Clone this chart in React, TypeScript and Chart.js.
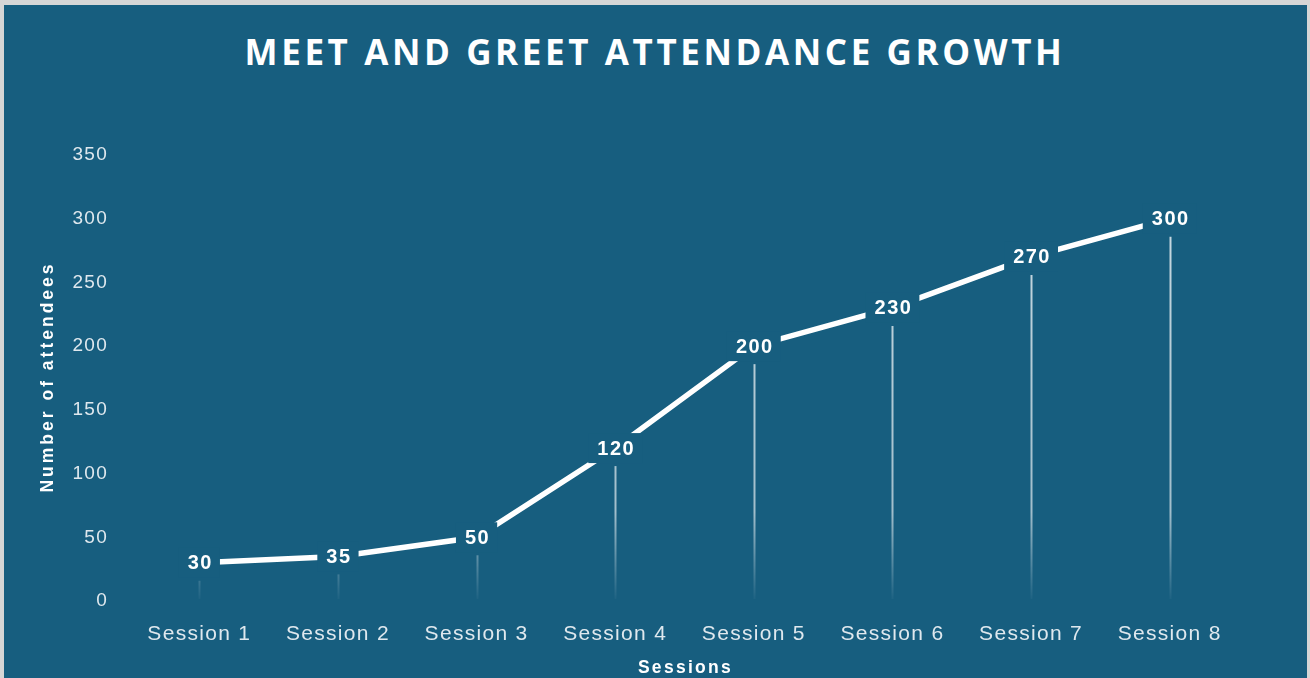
import React, { useEffect, useRef } from 'react';
import { Chart, registerables } from 'chart.js';

Chart.register(...registerables);

const TITLE = 'MEET AND GREET ATTENDANCE GROWTH';
const categories = ['Session 1', 'Session 2', 'Session 3', 'Session 4', 'Session 5', 'Session 6', 'Session 7', 'Session 8'];
const attendees = [30, 35, 50, 120, 200, 230, 270, 300];
const yMin = 0;
const yMax = 350;
const yStep = 50;
const xAxisTitle = 'Sessions';
const yAxisTitle = 'Number of attendees';

const BG = '#175e7f';
const TICK = '#dfe8ee';
const FONT = '"Liberation Sans", Arial, sans-serif';

const spacingPlugin = {
  id: 'spacing',
  beforeUpdate(chart: any) { chart.ctx.letterSpacing = '1.3px'; },
  beforeDraw(chart: any) { chart.ctx.letterSpacing = '1.3px'; },
};

const decorPlugin = {
  id: 'decor',
  afterDatasetsDraw(chart: any) {
    const ctx = chart.ctx;
    const area = chart.chartArea;
    const meta = chart.getDatasetMeta(0);
    const grad = ctx.createLinearGradient(0, area.top, 0, area.bottom);
    grad.addColorStop(0, 'rgba(255,255,255,0.8)');
    grad.addColorStop(0.8, 'rgba(255,255,255,0.6)');
    grad.addColorStop(1, 'rgba(255,255,255,0.02)');
    ctx.save();
    meta.data.forEach((pt: any) => {
      const x = Math.round(pt.x) + 0.5;
      ctx.beginPath();
      ctx.moveTo(x, pt.y + 18);
      ctx.lineTo(x, area.bottom - 2);
      ctx.strokeStyle = grad;
      ctx.lineWidth = 2;
      ctx.stroke();
    });
    ctx.font = 'bold 20px ' + FONT;
    ctx.letterSpacing = '1.5px';
    ctx.textAlign = 'center';
    ctx.textBaseline = 'middle';
    meta.data.forEach((pt: any, i: number) => {
      const txt = String(attendees[i]);
      const w = ctx.measureText(txt).width;
      ctx.fillStyle = BG;
      ctx.fillRect(pt.x - w / 2 - 8, pt.y - 15, w + 16, 30);
      ctx.fillStyle = '#ffffff';
      ctx.fillText(txt, pt.x + 1, pt.y + 1);
    });
    ctx.restore();
  },
  afterDraw(chart: any) {
    const ctx = chart.ctx;
    const area = chart.chartArea;
    ctx.save();
    ctx.fillStyle = '#ffffff';
    ctx.textAlign = 'center';
    ctx.textBaseline = 'middle';
    ctx.font = 'bold 17.5px ' + FONT;
    ctx.letterSpacing = '2.3px';
    ctx.fillText(xAxisTitle, (area.left + area.right) / 2 + 1, 668);
    ctx.letterSpacing = '3px';
    ctx.translate(48, (area.top + area.bottom) / 2);
    ctx.rotate(-Math.PI / 2);
    ctx.fillText(yAxisTitle, 1, 0);
    ctx.restore();
  },
};

export default function App() {
  const ref = useRef<HTMLCanvasElement | null>(null);
  useEffect(() => {
    if (!ref.current) return;
    const chart = new Chart(ref.current, {
      type: 'line',
      data: {
        labels: categories,
        datasets: [{
          data: attendees,
          borderColor: '#ffffff',
          borderWidth: 5.5,
          pointRadius: 0,
          pointHoverRadius: 0,
          tension: 0,
          fill: false,
        }],
      },
      options: {
        animation: false,
        responsive: true,
        maintainAspectRatio: false,
        events: [],
        layout: { padding: { left: 28, right: 71, top: 155, bottom: 0 } },
        plugins: {
          legend: { display: false },
          tooltip: { enabled: false },
          title: { display: false },
        },
        scales: {
          x: {
            offset: true,
            grid: { display: false, drawTicks: false },
            border: { display: false },
            ticks: {
              color: TICK,
              padding: 21,
              maxRotation: 0,
              font: { family: FONT, size: 21 },
            },
            afterFit(scale: any) { scale.height = 77; },
          },
          y: {
            min: yMin,
            max: yMax,
            grid: { display: false, drawTicks: false },
            border: { display: false },
            ticks: {
              stepSize: yStep,
              color: TICK,
              padding: 22,
              font: { family: FONT, size: 19 },
            },
            afterFit(scale: any) { scale.width = 102; },
          },
        },
      },
      plugins: [spacingPlugin, decorPlugin],
    } as any);
    return () => chart.destroy();
  }, []);

  return (
    <div style={{ position: 'fixed', left: 0, top: 0, width: 1310, height: 678, background: '#d6d6d6', overflow: 'hidden' }}>
      <div style={{ position: 'absolute', left: 4, top: 5, width: 1303, height: 700, background: BG }} />
      <div style={{
        position: 'absolute', left: 0, top: 29, width: 1310, textAlign: 'center',
        color: '#ffffff', fontFamily: '"Open Sans", sans-serif', fontWeight: 700,
        fontSize: 35, letterSpacing: 3.6, lineHeight: '46px',
      }}>{TITLE}</div>
      <div style={{ position: 'absolute', left: 0, top: 0, width: 1310, height: 678 }}>
        <canvas ref={ref} />
      </div>
    </div>
  );
}
